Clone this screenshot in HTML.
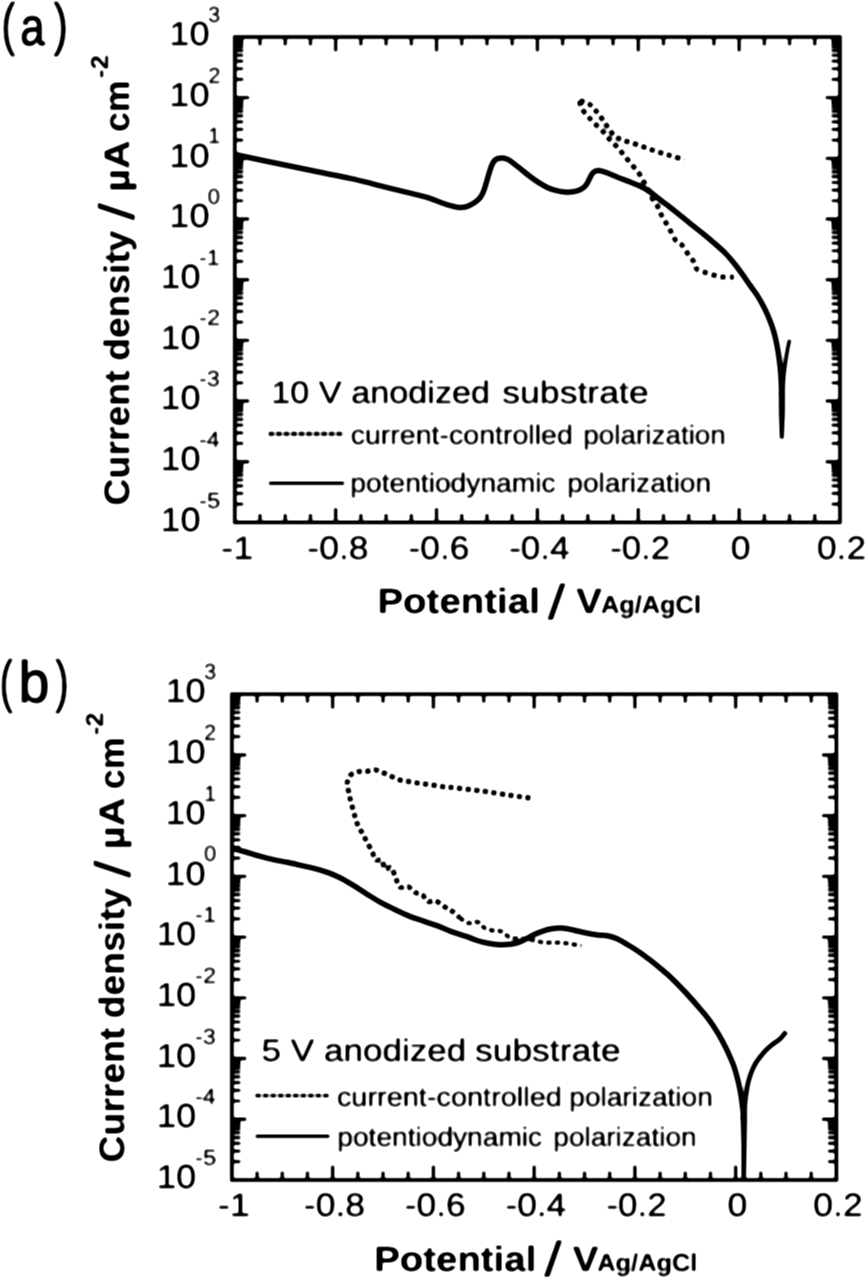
<!DOCTYPE html>
<html><head><meta charset="utf-8"><title>Polarization curves</title>
<style>html,body{margin:0;padding:0;background:#fff}svg{display:block}text{font-family:"Liberation Sans",sans-serif;fill:#000;text-rendering:geometricPrecision;stroke:#000;stroke-linejoin:round}.b{font-weight:bold}</style></head><body>
<svg width="867" height="1280" viewBox="0 0 867 1280">
<rect width="867" height="1280" fill="#fff"/>
<defs><filter id="soft" x="0" y="0" width="867" height="1280" filterUnits="userSpaceOnUse"><feGaussianBlur stdDeviation="0.8"/><feComponentTransfer><feFuncA type="linear" slope="1.7" intercept="-0.35"/></feComponentTransfer></filter></defs>
<g filter="url(#soft)">
<g id="gfx">
<rect x="234.8" y="37" width="605.2" height="485.4" fill="none" stroke="#000" stroke-width="3.8"/>
<path d="M260.02 37v8.5 M260.02 522.4v-8.5 M285.23 37v8.5 M285.23 522.4v-8.5 M310.45 37v8.5 M310.45 522.4v-8.5 M335.67 37v14.5 M335.67 522.4v-14.5 M360.88 37v8.5 M360.88 522.4v-8.5 M386.1 37v8.5 M386.1 522.4v-8.5 M411.32 37v8.5 M411.32 522.4v-8.5 M436.53 37v14.5 M436.53 522.4v-14.5 M461.75 37v8.5 M461.75 522.4v-8.5 M486.97 37v8.5 M486.97 522.4v-8.5 M512.18 37v8.5 M512.18 522.4v-8.5 M537.4 37v14.5 M537.4 522.4v-14.5 M562.62 37v8.5 M562.62 522.4v-8.5 M587.83 37v8.5 M587.83 522.4v-8.5 M613.05 37v8.5 M613.05 522.4v-8.5 M638.27 37v14.5 M638.27 522.4v-14.5 M663.48 37v8.5 M663.48 522.4v-8.5 M688.7 37v8.5 M688.7 522.4v-8.5 M713.92 37v8.5 M713.92 522.4v-8.5 M739.13 37v14.5 M739.13 522.4v-14.5 M764.35 37v8.5 M764.35 522.4v-8.5 M789.57 37v8.5 M789.57 522.4v-8.5 M814.78 37v8.5 M814.78 522.4v-8.5" stroke="#000" stroke-width="3.4" fill="none"/>
<path d="M234.8 97.67h14.5 M840 97.67h-14.5 M234.8 158.35h14.5 M840 158.35h-14.5 M234.8 219.02h14.5 M840 219.02h-14.5 M234.8 279.7h14.5 M840 279.7h-14.5 M234.8 340.38h14.5 M840 340.38h-14.5 M234.8 401.05h14.5 M840 401.05h-14.5 M234.8 461.72h14.5 M840 461.72h-14.5" stroke="#000" stroke-width="3.4" fill="none"/>
<path d="M234.8 79.41h8.5 M840 79.41h-8.5 M234.8 68.73h8.5 M840 68.73h-8.5 M234.8 61.15h8.5 M840 61.15h-8.5 M234.8 55.26h8.5 M840 55.26h-8.5 M234.8 50.46h8.5 M840 50.46h-8.5 M234.8 46.4h8.5 M840 46.4h-8.5 M234.8 42.88h8.5 M840 42.88h-8.5 M234.8 39.78h8.5 M840 39.78h-8.5 M234.8 140.09h8.5 M840 140.09h-8.5 M234.8 129.4h8.5 M840 129.4h-8.5 M234.8 121.82h8.5 M840 121.82h-8.5 M234.8 115.94h8.5 M840 115.94h-8.5 M234.8 111.14h8.5 M840 111.14h-8.5 M234.8 107.07h8.5 M840 107.07h-8.5 M234.8 103.56h8.5 M840 103.56h-8.5 M234.8 100.45h8.5 M840 100.45h-8.5 M234.8 200.76h8.5 M840 200.76h-8.5 M234.8 190.08h8.5 M840 190.08h-8.5 M234.8 182.5h8.5 M840 182.5h-8.5 M234.8 176.61h8.5 M840 176.61h-8.5 M234.8 171.81h8.5 M840 171.81h-8.5 M234.8 167.75h8.5 M840 167.75h-8.5 M234.8 164.23h8.5 M840 164.23h-8.5 M234.8 161.13h8.5 M840 161.13h-8.5 M234.8 261.44h8.5 M840 261.44h-8.5 M234.8 250.75h8.5 M840 250.75h-8.5 M234.8 243.17h8.5 M840 243.17h-8.5 M234.8 237.29h8.5 M840 237.29h-8.5 M234.8 232.49h8.5 M840 232.49h-8.5 M234.8 228.42h8.5 M840 228.42h-8.5 M234.8 224.91h8.5 M840 224.91h-8.5 M234.8 221.8h8.5 M840 221.8h-8.5 M234.8 322.11h8.5 M840 322.11h-8.5 M234.8 311.43h8.5 M840 311.43h-8.5 M234.8 303.85h8.5 M840 303.85h-8.5 M234.8 297.96h8.5 M840 297.96h-8.5 M234.8 293.16h8.5 M840 293.16h-8.5 M234.8 289.1h8.5 M840 289.1h-8.5 M234.8 285.58h8.5 M840 285.58h-8.5 M234.8 282.48h8.5 M840 282.48h-8.5 M234.8 382.79h8.5 M840 382.79h-8.5 M234.8 372.1h8.5 M840 372.1h-8.5 M234.8 364.52h8.5 M840 364.52h-8.5 M234.8 358.64h8.5 M840 358.64h-8.5 M234.8 353.84h8.5 M840 353.84h-8.5 M234.8 349.77h8.5 M840 349.77h-8.5 M234.8 346.26h8.5 M840 346.26h-8.5 M234.8 343.15h8.5 M840 343.15h-8.5 M234.8 443.46h8.5 M840 443.46h-8.5 M234.8 432.78h8.5 M840 432.78h-8.5 M234.8 425.2h8.5 M840 425.2h-8.5 M234.8 419.31h8.5 M840 419.31h-8.5 M234.8 414.51h8.5 M840 414.51h-8.5 M234.8 410.45h8.5 M840 410.45h-8.5 M234.8 406.93h8.5 M840 406.93h-8.5 M234.8 403.83h8.5 M840 403.83h-8.5 M234.8 504.14h8.5 M840 504.14h-8.5 M234.8 493.45h8.5 M840 493.45h-8.5 M234.8 485.87h8.5 M840 485.87h-8.5 M234.8 479.99h8.5 M840 479.99h-8.5 M234.8 475.19h8.5 M840 475.19h-8.5 M234.8 471.12h8.5 M840 471.12h-8.5 M234.8 467.61h8.5 M840 467.61h-8.5 M234.8 464.5h8.5 M840 464.5h-8.5" stroke="#000" stroke-width="3.2" fill="none"/>
<path d="M234.8 154.5 C242.33 156.08 265.8 161.03 280 164 C294.2 166.97 308.33 169.9 320 172.3 C331.67 174.7 341.53 176.57 350 178.4 C358.47 180.23 363.88 181.6 370.8 183.3 C377.72 185 384.58 186.88 391.5 188.6 C398.42 190.32 406.53 192.18 412.3 193.6 C418.07 195.02 422.18 195.95 426.1 197.1 C430.02 198.25 432.33 199.23 435.8 200.5 C439.27 201.77 443.67 203.65 446.9 204.7 C450.13 205.75 452.92 206.32 455.2 206.8 C457.48 207.28 458.55 207.68 460.6 207.6 C462.65 207.52 465.2 207.1 467.5 206.3 C469.8 205.5 472.33 204.18 474.4 202.8 C476.47 201.42 478.4 199.85 479.9 198 C481.4 196.15 482.37 194.13 483.4 191.7 C484.43 189.27 485.18 186.38 486.1 183.4 C487.02 180.42 487.97 176.8 488.9 173.8 C489.83 170.8 490.78 167.6 491.7 165.4 C492.62 163.2 493.37 161.75 494.4 160.6 C495.43 159.45 496.5 158.92 497.9 158.5 C499.3 158.08 501.07 157.92 502.8 158.1 C504.53 158.28 506.35 158.6 508.3 159.6 C510.25 160.6 512.32 162.43 514.5 164.1 C516.68 165.77 518.87 167.58 521.4 169.6 C523.93 171.62 526.93 174.12 529.7 176.2 C532.47 178.28 535.23 180.32 538 182.1 C540.77 183.88 543.52 185.57 546.3 186.9 C549.08 188.23 551.7 189.25 554.7 190.1 C557.7 190.95 561.2 191.73 564.3 192 C567.4 192.27 570.65 192.08 573.3 191.7 C575.95 191.32 578.12 190.73 580.2 189.7 C582.28 188.67 584.3 187.23 585.8 185.5 C587.3 183.77 588.17 181.25 589.2 179.3 C590.23 177.35 590.97 175.18 592 173.8 C593.03 172.42 594.02 171.52 595.4 171 C596.78 170.48 598.45 170.43 600.3 170.7 C602.15 170.97 603.62 171.52 606.5 172.6 C609.38 173.68 613.9 175.73 617.6 177.2 C621.3 178.67 625.02 179.95 628.7 181.4 C632.38 182.85 636.48 184.4 639.7 185.9 C642.92 187.4 645.23 188.62 648 190.4 C650.77 192.18 653.3 194.3 656.3 196.6 C659.3 198.9 662.8 201.7 666 204.2 C669.2 206.7 671.7 208.58 675.5 211.6 C679.3 214.62 684.27 218.67 688.8 222.3 C693.33 225.93 698.08 229.6 702.7 233.4 C707.32 237.2 712.58 241.65 716.5 245.1 C720.42 248.55 723.2 250.98 726.2 254.1 C729.2 257.22 731.73 260.33 734.5 263.8 C737.27 267.27 740.23 271.33 742.8 274.9 C745.37 278.47 747.42 281.67 749.9 285.2 C752.38 288.73 755.25 292.22 757.7 296.1 C760.15 299.98 762.53 304.35 764.6 308.5 C766.67 312.65 768.48 316.85 770.1 321 C771.72 325.15 773.13 329.25 774.3 333.4 C775.47 337.55 776.3 341.73 777.1 345.9 C777.9 350.07 778.53 354.25 779.1 358.4 C779.67 362.55 780.13 366.7 780.5 370.8 C780.87 374.9 781.12 379.13 781.3 383 C781.48 386.87 781.55 392.17 781.6 394" fill="none" stroke="#000" stroke-width="5.5" stroke-linejoin="round"/>
<path d="M783 394 C783.05 392.17 783.13 386.4 783.3 383 C783.47 379.6 783.65 377.02 784 373.6 C784.35 370.18 784.83 366.42 785.4 362.5 C785.97 358.58 786.7 353.92 787.4 350.1 C788.1 346.28 789.23 341.35 789.6 339.6" fill="none" stroke="#000" stroke-width="3.8"/>
<path d="M778.75 392H785L784.9 413L783.8 438.8H779.8L778.9 413Z" fill="#000"/>
<path d="M579.4 100.7 C580.93 101.18 585.83 101.88 588.6 103.6 C591.37 105.32 593.7 108.38 596 111 C598.3 113.62 600.32 116.42 602.4 119.3 C604.48 122.18 606.43 125.48 608.5 128.3 C610.57 131.12 612.37 134.2 614.8 136.2 C617.23 138.2 620.33 139.2 623.1 140.3 C625.87 141.4 628.52 141.88 631.4 142.8 C634.28 143.72 637.52 144.8 640.4 145.8 C643.28 146.8 645.93 147.83 648.7 148.8 C651.47 149.77 654.23 150.72 657 151.6 C659.77 152.48 662.52 153.27 665.3 154.1 C668.08 154.93 670.45 155.65 673.7 156.6 C676.95 157.55 682.95 159.27 684.8 159.8" fill="none" stroke="#000" stroke-width="5.2" stroke-dasharray="5.3 3.6"/>
<path d="M579.4 100.7 C579.8 102.02 580.42 106.05 581.8 108.6 C583.18 111.15 585.65 113.6 587.7 116 C589.75 118.4 591.58 120.45 594.1 123 C596.62 125.55 600.15 128.5 602.8 131.3 C605.45 134.1 607.53 137.1 610 139.8 C612.47 142.5 615.23 144.88 617.6 147.5 C619.97 150.12 621.9 152.7 624.2 155.5 C626.5 158.3 629.03 161.48 631.4 164.3 C633.77 167.12 636.43 169.67 638.4 172.4 C640.37 175.13 641.7 178.05 643.2 180.7 C644.7 183.35 646.02 185.53 647.4 188.3 C648.78 191.07 649.82 194.3 651.5 197.3 C653.18 200.3 655.88 203.42 657.5 206.3 C659.12 209.18 659.78 211.83 661.2 214.6 C662.62 217.37 664.37 220.05 666 222.9 C667.63 225.75 669.38 228.8 671 231.7 C672.62 234.6 673.88 238.07 675.7 240.3 C677.52 242.53 679.93 242.95 681.9 245.1 C683.87 247.25 685.53 250.43 687.5 253.2 C689.47 255.97 692.1 259 693.7 261.7 C695.3 264.4 695.15 267.6 697.1 269.4 C699.05 271.2 702.52 271.52 705.4 272.5 C708.28 273.48 711.5 274.55 714.4 275.3 C717.3 276.05 719.53 276.68 722.8 277 C726.07 277.32 732.13 277.17 734 277.2" fill="none" stroke="#000" stroke-width="5.2" stroke-dasharray="5.3 4"/>
<path d="M268.6 433.8H344.5" stroke="#000" stroke-width="4.3" stroke-dasharray="5.7 1.83"/>
<path d="M268.8 483.2H344.2" stroke="#000" stroke-width="3.6"/>
<rect x="231.9" y="694.2" width="604.5" height="485.8" fill="none" stroke="#000" stroke-width="3.8"/>
<path d="M257.09 694.2v8.5 M257.09 1180v-8.5 M282.27 694.2v8.5 M282.27 1180v-8.5 M307.46 694.2v8.5 M307.46 1180v-8.5 M332.65 694.2v14.5 M332.65 1180v-14.5 M357.84 694.2v8.5 M357.84 1180v-8.5 M383.02 694.2v8.5 M383.02 1180v-8.5 M408.21 694.2v8.5 M408.21 1180v-8.5 M433.4 694.2v14.5 M433.4 1180v-14.5 M458.59 694.2v8.5 M458.59 1180v-8.5 M483.77 694.2v8.5 M483.77 1180v-8.5 M508.96 694.2v8.5 M508.96 1180v-8.5 M534.15 694.2v14.5 M534.15 1180v-14.5 M559.34 694.2v8.5 M559.34 1180v-8.5 M584.52 694.2v8.5 M584.52 1180v-8.5 M609.71 694.2v8.5 M609.71 1180v-8.5 M634.9 694.2v14.5 M634.9 1180v-14.5 M660.09 694.2v8.5 M660.09 1180v-8.5 M685.27 694.2v8.5 M685.27 1180v-8.5 M710.46 694.2v8.5 M710.46 1180v-8.5 M735.65 694.2v14.5 M735.65 1180v-14.5 M760.84 694.2v8.5 M760.84 1180v-8.5 M786.02 694.2v8.5 M786.02 1180v-8.5 M811.21 694.2v8.5 M811.21 1180v-8.5" stroke="#000" stroke-width="3.4" fill="none"/>
<path d="M231.9 754.93h14.5 M836.4 754.93h-14.5 M231.9 815.65h14.5 M836.4 815.65h-14.5 M231.9 876.38h14.5 M836.4 876.38h-14.5 M231.9 937.1h14.5 M836.4 937.1h-14.5 M231.9 997.83h14.5 M836.4 997.83h-14.5 M231.9 1058.55h14.5 M836.4 1058.55h-14.5 M231.9 1119.28h14.5 M836.4 1119.28h-14.5" stroke="#000" stroke-width="3.4" fill="none"/>
<path d="M231.9 736.64h8.5 M836.4 736.64h-8.5 M231.9 725.95h8.5 M836.4 725.95h-8.5 M231.9 718.36h8.5 M836.4 718.36h-8.5 M231.9 712.48h8.5 M836.4 712.48h-8.5 M231.9 707.67h8.5 M836.4 707.67h-8.5 M231.9 703.61h8.5 M836.4 703.61h-8.5 M231.9 700.08h8.5 M836.4 700.08h-8.5 M231.9 696.98h8.5 M836.4 696.98h-8.5 M231.9 797.37h8.5 M836.4 797.37h-8.5 M231.9 786.68h8.5 M836.4 786.68h-8.5 M231.9 779.09h8.5 M836.4 779.09h-8.5 M231.9 773.21h8.5 M836.4 773.21h-8.5 M231.9 768.4h8.5 M836.4 768.4h-8.5 M231.9 764.33h8.5 M836.4 764.33h-8.5 M231.9 760.81h8.5 M836.4 760.81h-8.5 M231.9 757.7h8.5 M836.4 757.7h-8.5 M231.9 858.09h8.5 M836.4 858.09h-8.5 M231.9 847.4h8.5 M836.4 847.4h-8.5 M231.9 839.81h8.5 M836.4 839.81h-8.5 M231.9 833.93h8.5 M836.4 833.93h-8.5 M231.9 829.12h8.5 M836.4 829.12h-8.5 M231.9 825.06h8.5 M836.4 825.06h-8.5 M231.9 821.53h8.5 M836.4 821.53h-8.5 M231.9 818.43h8.5 M836.4 818.43h-8.5 M231.9 918.82h8.5 M836.4 918.82h-8.5 M231.9 908.13h8.5 M836.4 908.13h-8.5 M231.9 900.54h8.5 M836.4 900.54h-8.5 M231.9 894.66h8.5 M836.4 894.66h-8.5 M231.9 889.85h8.5 M836.4 889.85h-8.5 M231.9 885.78h8.5 M836.4 885.78h-8.5 M231.9 882.26h8.5 M836.4 882.26h-8.5 M231.9 879.15h8.5 M836.4 879.15h-8.5 M231.9 979.54h8.5 M836.4 979.54h-8.5 M231.9 968.85h8.5 M836.4 968.85h-8.5 M231.9 961.26h8.5 M836.4 961.26h-8.5 M231.9 955.38h8.5 M836.4 955.38h-8.5 M231.9 950.57h8.5 M836.4 950.57h-8.5 M231.9 946.51h8.5 M836.4 946.51h-8.5 M231.9 942.98h8.5 M836.4 942.98h-8.5 M231.9 939.88h8.5 M836.4 939.88h-8.5 M231.9 1040.27h8.5 M836.4 1040.27h-8.5 M231.9 1029.58h8.5 M836.4 1029.58h-8.5 M231.9 1021.99h8.5 M836.4 1021.99h-8.5 M231.9 1016.11h8.5 M836.4 1016.11h-8.5 M231.9 1011.3h8.5 M836.4 1011.3h-8.5 M231.9 1007.23h8.5 M836.4 1007.23h-8.5 M231.9 1003.71h8.5 M836.4 1003.71h-8.5 M231.9 1000.6h8.5 M836.4 1000.6h-8.5 M231.9 1100.99h8.5 M836.4 1100.99h-8.5 M231.9 1090.3h8.5 M836.4 1090.3h-8.5 M231.9 1082.71h8.5 M836.4 1082.71h-8.5 M231.9 1076.83h8.5 M836.4 1076.83h-8.5 M231.9 1072.02h8.5 M836.4 1072.02h-8.5 M231.9 1067.96h8.5 M836.4 1067.96h-8.5 M231.9 1064.43h8.5 M836.4 1064.43h-8.5 M231.9 1061.33h8.5 M836.4 1061.33h-8.5 M231.9 1161.72h8.5 M836.4 1161.72h-8.5 M231.9 1151.03h8.5 M836.4 1151.03h-8.5 M231.9 1143.44h8.5 M836.4 1143.44h-8.5 M231.9 1137.56h8.5 M836.4 1137.56h-8.5 M231.9 1132.75h8.5 M836.4 1132.75h-8.5 M231.9 1128.68h8.5 M836.4 1128.68h-8.5 M231.9 1125.16h8.5 M836.4 1125.16h-8.5 M231.9 1122.05h8.5 M836.4 1122.05h-8.5" stroke="#000" stroke-width="3.2" fill="none"/>
<path d="M231.9 848.1 C234.22 848.75 241.18 850.67 245.8 852 C250.42 853.33 255 854.83 259.6 856.1 C264.2 857.37 268.78 858.57 273.4 859.6 C278.02 860.63 282.68 861.33 287.3 862.3 C291.92 863.27 296.48 864.35 301.1 865.4 C305.72 866.45 310.38 867.37 315 868.6 C319.62 869.83 324.88 871.42 328.8 872.8 C332.72 874.18 335.8 875.63 338.5 876.9 C341.2 878.17 342.45 878.95 345 880.4 C347.55 881.85 350.02 883.23 353.8 885.6 C357.58 887.97 363.08 891.72 367.7 894.6 C372.32 897.48 376.88 900.37 381.5 902.9 C386.12 905.43 390.78 907.6 395.4 909.8 C400.02 912 404.6 914.25 409.2 916.1 C413.8 917.95 418.38 919.3 423 920.9 C427.62 922.5 432.28 923.97 436.9 925.7 C441.52 927.43 445.83 929.52 450.7 931.3 C455.57 933.08 461.7 934.87 466.1 936.4 C470.5 937.93 473.42 939.35 477.1 940.5 C480.78 941.65 484.5 942.6 488.2 943.3 C491.9 944 495.6 944.53 499.3 944.7 C503 944.87 507.17 944.7 510.4 944.3 C513.63 943.9 515.93 943.28 518.7 942.3 C521.47 941.32 524.23 939.78 527 938.4 C529.77 937.02 532.53 935.27 535.3 934 C538.07 932.73 540.83 931.67 543.6 930.8 C546.37 929.93 549.13 929.25 551.9 928.8 C554.67 928.35 557.43 928.07 560.2 928.1 C562.97 928.13 564.57 928.27 568.5 929 C572.43 929.73 578.93 931.52 583.8 932.5 C588.67 933.48 593.77 934.37 597.7 934.9 C601.63 935.43 604.17 935.05 607.4 935.7 C610.63 936.35 613.65 937.25 617.1 938.8 C620.55 940.35 624.42 942.82 628.1 945 C631.78 947.18 635.5 949.37 639.2 951.9 C642.9 954.43 646.62 957.32 650.3 960.2 C653.98 963.08 657.62 966.08 661.3 969.2 C664.98 972.32 668.27 974.93 672.4 978.9 C676.53 982.87 681.98 988.58 686.1 993 C690.22 997.42 693.42 1001.13 697.1 1005.4 C700.78 1009.67 704.73 1013.98 708.2 1018.6 C711.67 1023.22 714.9 1028.13 717.9 1033.1 C720.9 1038.07 723.9 1043.78 726.2 1048.4 C728.5 1053.02 730.35 1057.62 731.7 1060.8 C733.05 1063.98 733.28 1064.32 734.3 1067.5 C735.32 1070.68 736.77 1075.75 737.8 1079.9 C738.83 1084.05 739.75 1088.25 740.5 1092.4 C741.25 1096.55 741.85 1101.37 742.3 1104.8 C742.75 1108.23 743.03 1110.47 743.2 1113 C743.37 1115.53 743.28 1118.83 743.3 1120" fill="none" stroke="#000" stroke-width="5.5" stroke-linejoin="round"/>
<path d="M744.6 1120 C744.61 1118.83 744.62 1115.53 744.65 1113 C744.68 1110.47 744.56 1108 744.8 1104.8 C745.04 1101.6 745.55 1097.48 746.1 1093.8 C746.65 1090.12 747.18 1086.4 748.1 1082.7 C749.02 1079 750.32 1074.88 751.6 1071.6 C752.88 1068.32 754.5 1065.27 755.8 1063 C757.1 1060.73 757.87 1059.98 759.4 1058 C760.93 1056.02 762.92 1053.28 765 1051.1 C767.08 1048.92 769.37 1046.97 771.9 1044.9 C774.43 1042.83 777.8 1040.92 780.2 1038.7 C782.6 1036.48 785.28 1032.78 786.3 1031.6" fill="none" stroke="#000" stroke-width="4.8"/>
<path d="M740.55 1117H747.1L746.6 1146L746 1180H741.4V1146Z" fill="#000"/>
<path d="M530.5 798.1 C527.2 797.65 518.62 796.55 510.7 795.4 C502.78 794.25 492.78 792.52 483 791.2 C473.22 789.88 458.57 788.23 452 787.5 C445.43 786.77 446.48 787.15 443.6 786.8 C440.72 786.45 437.68 785.85 434.7 785.4 C431.72 784.95 428.58 784.5 425.7 784.1 C422.82 783.7 420.18 783.42 417.4 783 C414.62 782.58 411.78 782.07 409 781.6 C406.22 781.13 403.47 780.98 400.7 780.2 C397.93 779.42 395.23 778.1 392.4 776.9 C389.57 775.7 386.58 774.17 383.7 773 C380.82 771.83 377.95 770.18 375.1 769.9 C372.25 769.62 369.48 770.98 366.6 771.3 C363.72 771.62 360.53 771.1 357.8 771.8 C355.07 772.5 351.97 773.57 350.2 775.5 C348.43 777.43 347.43 780.58 347.2 783.4 C346.97 786.22 348.25 789.57 348.8 792.4 C349.35 795.23 349.8 797.58 350.5 800.4 C351.2 803.22 352.17 806.3 353 809.3 C353.83 812.3 354.6 815.53 355.5 818.4 C356.4 821.27 357.18 823.92 358.4 826.5 C359.62 829.08 361.37 831.3 362.8 833.9 C364.23 836.5 365.43 839.12 367 842.1 C368.57 845.08 370.77 848.85 372.2 851.8 C373.63 854.75 373.98 858.38 375.6 859.8 C377.22 861.22 380.33 858.75 381.9 860.3 C383.47 861.85 383.45 867.88 385 869.1 C386.55 870.32 389.43 866.17 391.2 867.6 C392.97 869.03 394.13 874.45 395.6 877.7 C397.07 880.95 397.97 885.65 400 887.1 C402.03 888.55 405.22 885.5 407.8 886.4 C410.38 887.3 413.07 891.08 415.5 892.5 C417.93 893.92 420.33 893.4 422.4 894.9 C424.47 896.4 425.72 900.52 427.9 901.5 C430.08 902.48 432.62 899.87 435.5 900.8 C438.38 901.73 442.43 905.37 445.2 907.1 C447.97 908.83 449.73 909.47 452.1 911.2 C454.47 912.93 458.18 916.45 459.4 917.5" fill="none" stroke="#000" stroke-width="5.2" stroke-dasharray="5.3 3.3"/>
<path d="M459.4 917.5 C460.85 918.4 465.03 922.13 468.1 922.9 C471.17 923.67 475.02 921.23 477.8 922.1 C480.58 922.97 482.03 926.65 484.8 928.1 C487.57 929.55 491.63 930.23 494.4 930.8 C497.17 931.37 498.85 930.42 501.4 931.5 C503.95 932.58 506.93 936.1 509.7 937.3 C512.47 938.5 515.35 938.43 518 938.7 C520.65 938.97 522.83 938.6 525.6 938.9 C528.37 939.2 531.72 939.93 534.6 940.5 C537.48 941.07 540.02 941.95 542.9 942.3 C545.78 942.65 548.9 942.55 551.9 942.6 C554.9 942.65 558.13 942.42 560.9 942.6 C563.67 942.78 565.02 943.2 568.5 943.7 C571.98 944.2 579.58 945.28 581.8 945.6" fill="none" stroke="#000" stroke-width="4.3" stroke-dasharray="5.4 3.1"/>
<path d="M255.3 1095.6H330.5" stroke="#000" stroke-width="3.9" stroke-dasharray="5.7 1.83"/>
<path d="M255.5 1136.3H329.6" stroke="#000" stroke-width="3.5"/>
</g>
<g id="txt">
<text><tspan id="alp" stroke-width="1.2" x="1.48" y="44" font-size="57.8" textLength="13.53" lengthAdjust="spacingAndGlyphs">(</tspan><tspan id="alt" stroke-width="1.2" x="20.35" y="45" font-size="53.48" textLength="24.47" lengthAdjust="spacingAndGlyphs">a</tspan><tspan id="arp" stroke-width="1.2" x="53.71" y="44" font-size="57.8" textLength="14.1" lengthAdjust="spacingAndGlyphs">)</tspan></text>
<text><tspan id="ay0" stroke-width="0.45" x="169.33" y="45" font-size="33.28" textLength="40.19" lengthAdjust="spacingAndGlyphs">10</tspan><tspan id="as0" stroke-width="0.45" x="207.88" y="22" font-size="22">3</tspan></text>
<text><tspan id="ay1" stroke-width="0.45" x="169.33" y="106" font-size="33.28" textLength="40.19" lengthAdjust="spacingAndGlyphs">10</tspan><tspan id="as1" stroke-width="0.45" x="208.13" y="82.69" font-size="22">2</tspan></text>
<text><tspan id="ay2" stroke-width="0.45" x="169.33" y="167" font-size="33.28" textLength="40.19" lengthAdjust="spacingAndGlyphs">10</tspan><tspan id="as2" stroke-width="0.45" x="208.07" y="143.38" font-size="22">1</tspan></text>
<text><tspan id="ay3" stroke-width="0.45" x="169.33" y="227" font-size="33.28" textLength="40.19" lengthAdjust="spacingAndGlyphs">10</tspan><tspan id="as3" stroke-width="0.45" x="207.87" y="204.07" font-size="22">0</tspan></text>
<text><tspan id="ay4" stroke-width="0.45" x="160.49" y="288" font-size="33.58" textLength="40.01" lengthAdjust="spacingAndGlyphs">10</tspan><tspan id="as4" stroke-width="0.45" x="199.12" y="264.76" font-size="22" textLength="20.68" lengthAdjust="spacingAndGlyphs">-1</tspan></text>
<text><tspan id="ay5" stroke-width="0.45" x="160.49" y="349" font-size="33.58" textLength="40.01" lengthAdjust="spacingAndGlyphs">10</tspan><tspan id="as5" stroke-width="0.45" x="199.05" y="325.45" font-size="22" textLength="21.13" lengthAdjust="spacingAndGlyphs">-2</tspan></text>
<text><tspan id="ay6" stroke-width="0.45" x="160.49" y="409" font-size="33.58" textLength="40.01" lengthAdjust="spacingAndGlyphs">10</tspan><tspan id="as6" stroke-width="0.45" x="198.91" y="386.14" font-size="22" textLength="20.92" lengthAdjust="spacingAndGlyphs">-3</tspan></text>
<text><tspan id="ay7" stroke-width="0.45" x="160.49" y="470" font-size="33.58" textLength="40.01" lengthAdjust="spacingAndGlyphs">10</tspan><tspan id="as7" stroke-width="0.45" x="198.97" y="446.83" font-size="22" textLength="20.6" lengthAdjust="spacingAndGlyphs">-4</tspan></text>
<text><tspan id="ay8" stroke-width="0.45" x="160.49" y="531" font-size="33.58" textLength="40.01" lengthAdjust="spacingAndGlyphs">10</tspan><tspan id="as8" stroke-width="0.45" x="198.91" y="507.52" font-size="22" textLength="21.31" lengthAdjust="spacingAndGlyphs">-5</tspan></text>
<text><tspan id="ax0" stroke-width="0.45" x="221.33" y="559.2" font-size="32.5" textLength="32.16" lengthAdjust="spacingAndGlyphs">-1</tspan></text>
<text><tspan id="ax1" stroke-width="0.45" x="307.37" y="559.2" font-size="32.5" textLength="61.22" lengthAdjust="spacingAndGlyphs">-0.8</tspan></text>
<text><tspan id="ax2" stroke-width="0.45" x="408.62" y="559.2" font-size="32.5" textLength="60.7" lengthAdjust="spacingAndGlyphs">-0.6</tspan></text>
<text><tspan id="ax3" stroke-width="0.45" x="509.16" y="559.2" font-size="32.5" textLength="60.47" lengthAdjust="spacingAndGlyphs">-0.4</tspan></text>
<text><tspan id="ax4" stroke-width="0.45" x="610.22" y="559.2" font-size="32.5" textLength="59.89" lengthAdjust="spacingAndGlyphs">-0.2</tspan></text>
<text><tspan id="ax5" stroke-width="0.45" x="730.78" y="559.2" font-size="32.5" textLength="19.77" lengthAdjust="spacingAndGlyphs">0</tspan></text>
<text><tspan id="ax6" stroke-width="0.45" x="816.99" y="559.2" font-size="32.5" textLength="49.08" lengthAdjust="spacingAndGlyphs">0.2</tspan></text>
<text transform="rotate(-90)"><tspan id="ayl1" class="b" stroke-width="0.2" x="-505.42" y="128.8" font-size="35.3" textLength="135" lengthAdjust="spacingAndGlyphs">Current</tspan> <tspan id="ayl2" class="b" stroke-width="0.2" x="-360.86" y="128.8" font-size="35.3" textLength="130.35" lengthAdjust="spacingAndGlyphs">density</tspan> <tspan id="ayl3" stroke-width="0.45" x="-220.35" y="134.15" font-size="49.71" textLength="17.13" lengthAdjust="spacingAndGlyphs">/</tspan> <tspan id="ayl4" class="b" stroke-width="0.2" x="-191.81" y="128.8" font-size="35.3" textLength="51.44" lengthAdjust="spacingAndGlyphs">µA</tspan> <tspan id="ayl5" class="b" stroke-width="0.2" x="-132.14" y="128.8" font-size="35.3" textLength="51.97" lengthAdjust="spacingAndGlyphs">cm</tspan><tspan id="ays" class="b" stroke-width="0.2" x="-78.34" y="107.7" font-size="24.5" textLength="23.36" lengthAdjust="spacingAndGlyphs">-2</tspan></text>
<text><tspan id="axt1" class="b" stroke-width="0.2" x="377.44" y="613.4" font-size="35" textLength="162.43" lengthAdjust="spacingAndGlyphs">Potential</tspan> <tspan id="axt2" stroke-width="0.45" x="547.76" y="619" font-size="48.56" textLength="17.42" lengthAdjust="spacingAndGlyphs">/</tspan> <tspan id="axt3" class="b" stroke-width="0.2" x="576.34" y="613.4" font-size="35" textLength="25.63" lengthAdjust="spacingAndGlyphs">V</tspan><tspan id="axs" class="b" stroke-width="0.2" x="600.9" y="613.4" font-size="24.6" textLength="100.08" lengthAdjust="spacingAndGlyphs">Ag/AgCl</tspan></text>
<text><tspan id="blp" stroke-width="1.2" x="-0.19" y="701" font-size="57.68" textLength="12.75" lengthAdjust="spacingAndGlyphs">(</tspan><tspan id="blt" stroke-width="1.2" x="18.47" y="702" font-size="58.19" textLength="30.89" lengthAdjust="spacingAndGlyphs">b</tspan><tspan id="brp" stroke-width="1.2" x="55.45" y="701" font-size="57.65" textLength="13.14" lengthAdjust="spacingAndGlyphs">)</tspan></text>
<text><tspan id="by0" stroke-width="0.45" x="165.5" y="702" font-size="33.28" textLength="40.11" lengthAdjust="spacingAndGlyphs">10</tspan><tspan id="bs0" stroke-width="0.45" x="204" y="679.2" font-size="22">3</tspan></text>
<text><tspan id="by1" stroke-width="0.45" x="165.5" y="763" font-size="33.28" textLength="40.11" lengthAdjust="spacingAndGlyphs">10</tspan><tspan id="bs1" stroke-width="0.45" x="204.06" y="739.92" font-size="22">2</tspan></text>
<text><tspan id="by2" stroke-width="0.45" x="165.5" y="824" font-size="33.28" textLength="40.11" lengthAdjust="spacingAndGlyphs">10</tspan><tspan id="bs2" stroke-width="0.45" x="203.96" y="800.64" font-size="22">1</tspan></text>
<text><tspan id="by3" stroke-width="0.45" x="165.5" y="885" font-size="33.28" textLength="40.11" lengthAdjust="spacingAndGlyphs">10</tspan><tspan id="bs3" stroke-width="0.45" x="203.94" y="861.36" font-size="22">0</tspan></text>
<text><tspan id="by4" stroke-width="0.45" x="156.55" y="945" font-size="33.26" textLength="39.61" lengthAdjust="spacingAndGlyphs">10</tspan><tspan id="bs4" stroke-width="0.45" x="195.12" y="922.08" font-size="22" textLength="21.02" lengthAdjust="spacingAndGlyphs">-1</tspan></text>
<text><tspan id="by5" stroke-width="0.45" x="156.55" y="1006" font-size="33.26" textLength="39.61" lengthAdjust="spacingAndGlyphs">10</tspan><tspan id="bs5" stroke-width="0.45" x="195.1" y="982.8" font-size="22" textLength="21.06" lengthAdjust="spacingAndGlyphs">-2</tspan></text>
<text><tspan id="by6" stroke-width="0.45" x="156.55" y="1067" font-size="33.26" textLength="39.61" lengthAdjust="spacingAndGlyphs">10</tspan><tspan id="bs6" stroke-width="0.45" x="194.91" y="1043.52" font-size="22" textLength="20.92" lengthAdjust="spacingAndGlyphs">-3</tspan></text>
<text><tspan id="by7" stroke-width="0.45" x="156.55" y="1127" font-size="33.26" textLength="39.61" lengthAdjust="spacingAndGlyphs">10</tspan><tspan id="bs7" stroke-width="0.45" x="195.04" y="1104.24" font-size="22" textLength="20.59" lengthAdjust="spacingAndGlyphs">-4</tspan></text>
<text><tspan id="by8" stroke-width="0.45" x="156.55" y="1188" font-size="33.26" textLength="39.61" lengthAdjust="spacingAndGlyphs">10</tspan><tspan id="bs8" stroke-width="0.45" x="194.91" y="1164.96" font-size="22" textLength="21.31" lengthAdjust="spacingAndGlyphs">-5</tspan></text>
<text><tspan id="bx0" stroke-width="0.45" x="217.82" y="1216.4" font-size="32.5" textLength="32.14" lengthAdjust="spacingAndGlyphs">-1</tspan></text>
<text><tspan id="bx1" stroke-width="0.45" x="303.85" y="1216.4" font-size="32.5" textLength="61.22" lengthAdjust="spacingAndGlyphs">-0.8</tspan></text>
<text><tspan id="bx2" stroke-width="0.45" x="404.85" y="1216.4" font-size="32.5" textLength="60.86" lengthAdjust="spacingAndGlyphs">-0.6</tspan></text>
<text><tspan id="bx3" stroke-width="0.45" x="505.41" y="1216.4" font-size="32.5" textLength="60.82" lengthAdjust="spacingAndGlyphs">-0.4</tspan></text>
<text><tspan id="bx4" stroke-width="0.45" x="606.42" y="1216.4" font-size="32.5" textLength="60.19" lengthAdjust="spacingAndGlyphs">-0.2</tspan></text>
<text><tspan id="bx5" stroke-width="0.45" x="727.44" y="1216.4" font-size="32.5" textLength="19.81" lengthAdjust="spacingAndGlyphs">0</tspan></text>
<text><tspan id="bx6" stroke-width="0.45" x="813.37" y="1216.4" font-size="32.5" textLength="49.33" lengthAdjust="spacingAndGlyphs">0.2</tspan></text>
<text transform="rotate(-90)"><tspan id="byl1" class="b" stroke-width="0.2" x="-1162.4" y="123.6" font-size="35.3" textLength="134.9" lengthAdjust="spacingAndGlyphs">Current</tspan> <tspan id="byl2" class="b" stroke-width="0.2" x="-1018.23" y="123.6" font-size="35.3" textLength="130.49" lengthAdjust="spacingAndGlyphs">density</tspan> <tspan id="byl3" stroke-width="0.45" x="-877.69" y="129.51" font-size="49.76" textLength="17.13" lengthAdjust="spacingAndGlyphs">/</tspan> <tspan id="byl4" class="b" stroke-width="0.2" x="-849.19" y="123.6" font-size="35.3" textLength="51.6" lengthAdjust="spacingAndGlyphs">µA</tspan> <tspan id="byl5" class="b" stroke-width="0.2" x="-789.24" y="123.6" font-size="35.3" textLength="52.02" lengthAdjust="spacingAndGlyphs">cm</tspan><tspan id="bys" class="b" stroke-width="0.2" x="-735.32" y="102.5" font-size="24.5" textLength="22.93" lengthAdjust="spacingAndGlyphs">-2</tspan></text>
<text><tspan id="bxt1" class="b" stroke-width="0.2" x="374.16" y="1270.6" font-size="35" textLength="162.17" lengthAdjust="spacingAndGlyphs">Potential</tspan> <tspan id="bxt2" stroke-width="0.45" x="544.26" y="1276" font-size="48.59" textLength="17.47" lengthAdjust="spacingAndGlyphs">/</tspan> <tspan id="bxt3" class="b" stroke-width="0.2" x="572.89" y="1270.6" font-size="35" textLength="25.67" lengthAdjust="spacingAndGlyphs">V</tspan><tspan id="bxs" class="b" stroke-width="0.2" x="597.29" y="1270.6" font-size="24.6" textLength="100.1" lengthAdjust="spacingAndGlyphs">Ag/AgCl</tspan></text>
<text><tspan id="al0a" stroke-width="0.45" x="271.23" y="403.4" font-size="31" textLength="218.95" lengthAdjust="spacingAndGlyphs">10 V anodized</tspan> <tspan id="al0b" stroke-width="0.45" x="502.26" y="403.4" font-size="31" textLength="146.44" lengthAdjust="spacingAndGlyphs">substrate</tspan></text>
<text><tspan id="al1a" stroke-width="0.45" x="350.69" y="443.8" font-size="26.7" textLength="222.12" lengthAdjust="spacingAndGlyphs">current-controlled</tspan> <tspan id="al1b" stroke-width="0.45" x="583.27" y="443.8" font-size="26.7" textLength="142.62" lengthAdjust="spacingAndGlyphs">polarization</tspan></text>
<text><tspan id="al2a" stroke-width="0.45" x="350.28" y="492.3" font-size="26.7" textLength="205.36" lengthAdjust="spacingAndGlyphs">potentiodynamic</tspan> <tspan id="al2b" stroke-width="0.45" x="567.35" y="492.3" font-size="26.7" textLength="143.82" lengthAdjust="spacingAndGlyphs">polarization</tspan></text>
<text><tspan id="bl0a" stroke-width="0.45" x="261.5" y="1060.8" font-size="31" textLength="204.77" lengthAdjust="spacingAndGlyphs">5 V anodized</tspan> <tspan id="bl0b" stroke-width="0.45" x="474.95" y="1060.8" font-size="31" textLength="145.83" lengthAdjust="spacingAndGlyphs">substrate</tspan></text>
<text><tspan id="bl1a" stroke-width="0.45" x="336.9" y="1105.5" font-size="26.7" textLength="224.95" lengthAdjust="spacingAndGlyphs">current-controlled</tspan> <tspan id="bl1b" stroke-width="0.45" x="569.29" y="1105.5" font-size="26.7" textLength="143.55" lengthAdjust="spacingAndGlyphs">polarization</tspan></text>
<text><tspan id="bl2a" stroke-width="0.45" x="337.29" y="1146" font-size="26.7" textLength="204.91" lengthAdjust="spacingAndGlyphs">potentiodynamic</tspan> <tspan id="bl2b" stroke-width="0.45" x="553.35" y="1146" font-size="26.7" textLength="143.22" lengthAdjust="spacingAndGlyphs">polarization</tspan></text>
</g>
</g>
</svg></body></html>
